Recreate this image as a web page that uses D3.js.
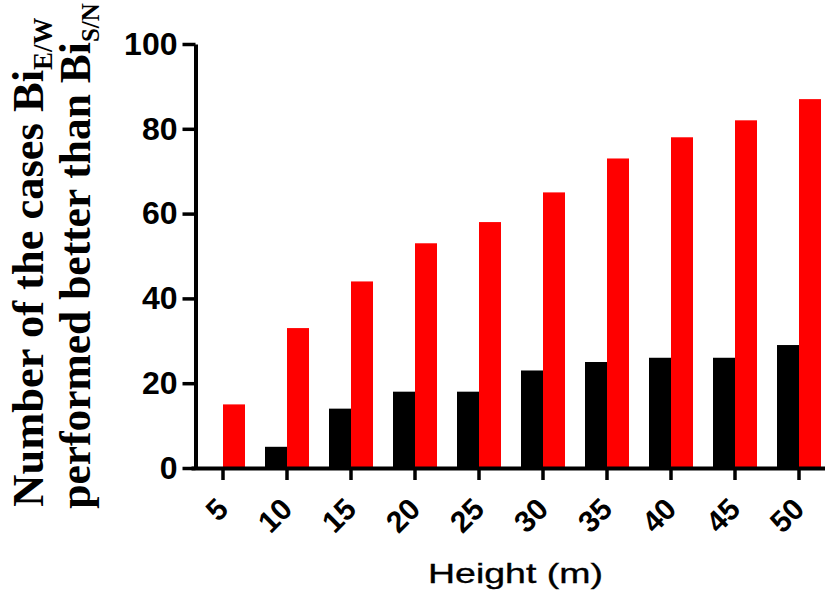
<!DOCTYPE html>
<html>
<head>
<meta charset="utf-8">
<script src="https://cdn.jsdelivr.net/npm/d3@7"></script>
<style>
  html, body { margin: 0; padding: 0; background: #fff; }
  svg { display: block; }
</style>
</head>
<body>
<svg id="chart" width="825" height="594"></svg>
<script>
const categories = ["5", "10", "15", "20", "25", "30", "35", "40", "45", "50"];
const seriesNames = ["black", "red"];
const blackValues = [0, 5, 14, 18, 18, 23, 25, 26, 26, 29];
const redValues = [15, 33, 44, 53, 58, 65, 73, 78, 82, 87];
const yTicks = [0, 20, 40, 60, 80, 100];
const seriesColors = { black: "#000000", red: "#ff0000" };

const svg = d3.select("#chart");

const y = d3.scaleLinear().domain([0, 100]).range([468, 44]);
const x0 = d3.scaleBand().domain(categories).range([191, 831])
  .paddingInner(0.3125).paddingOuter(0.15625);
const x1 = d3.scaleBand().domain(seriesNames).range([0, x0.bandwidth()]);

const rows = categories.map((c, i) => ({ cat: c, black: blackValues[i], red: redValues[i] }));

// bars
const groups = svg.append("g").selectAll("g").data(rows).join("g")
  .attr("transform", d => `translate(${x0(d.cat)},0)`);
groups.selectAll("rect")
  .data(d => seriesNames.map(s => ({ s, v: d[s] })))
  .join("rect")
  .attr("x", d => x1(d.s))
  .attr("width", x1.bandwidth())
  .attr("y", d => y(d.v))
  .attr("height", d => y(0) - y(d.v))
  .attr("fill", d => seriesColors[d.s]);

// x axis
const xAxis = svg.append("g")
  .attr("transform", "translate(0,468)")
  .call(d3.axisBottom(x0).tickSize(12).tickSizeOuter(0).tickFormat(() => ""));
xAxis.select(".domain").attr("stroke", "#000").attr("stroke-width", 4);
xAxis.selectAll(".tick line").attr("stroke", "#000").attr("stroke-width", 3.5);

svg.append("g").selectAll("text").data(categories).join("text")
  .attr("transform", d => `translate(${x0(d) + x0.bandwidth() / 2 + 7},511) rotate(-45)`)
  .attr("text-anchor", "end")
  .attr("font-family", "Liberation Sans, Arial, sans-serif")
  .attr("font-weight", "bold")
  .attr("font-size", 30)
  .attr("fill", "#000")
  .text(d => d);

// y axis
const yAxis = svg.append("g")
  .attr("transform", "translate(195.5,0)")
  .call(d3.axisLeft(y).tickValues(yTicks).tickSize(13).tickSizeOuter(0).tickPadding(5));
yAxis.select(".domain").attr("stroke", "#000").attr("stroke-width", 4);
yAxis.selectAll(".tick line").attr("stroke", "#000").attr("stroke-width", 3.5);
yAxis.selectAll(".tick text")
  .attr("font-family", "Liberation Sans, Arial, sans-serif")
  .attr("font-weight", "bold")
  .attr("font-size", 32)
  .attr("fill", "#000");

// x title
svg.append("text")
  .attr("x", 428).attr("y", 583)
  .attr("font-family", "Liberation Sans, Arial, sans-serif")
  .attr("font-size", 28)
  .attr("textLength", 175)
  .attr("lengthAdjust", "spacingAndGlyphs")
  .attr("fill", "#000")
  .attr("stroke", "#000")
  .attr("stroke-width", 0.35)
  .text("Height (m)");

// y title (two lines)
const t1 = svg.append("text")
  .attr("transform", "translate(43,262) rotate(-90)")
  .attr("text-anchor", "middle")
  .attr("font-family", "Liberation Serif, 'Times New Roman', serif")
  .attr("font-weight", "bold")
  .attr("font-size", 44.5)
  .attr("fill", "#000");
t1.append("tspan").text("Number of the cases Bi");
t1.append("tspan").attr("font-size", 27).attr("dy", 9).text("E/W");

const t2 = svg.append("text")
  .attr("transform", "translate(90,256) rotate(-90)")
  .attr("text-anchor", "middle")
  .attr("font-family", "Liberation Serif, 'Times New Roman', serif")
  .attr("font-weight", "bold")
  .attr("font-size", 43.5)
  .attr("fill", "#000");
t2.append("tspan").text("performed better than Bi");
t2.append("tspan").attr("font-size", 25).attr("dy", 9).text("S/N");
</script>
</body>
</html>
